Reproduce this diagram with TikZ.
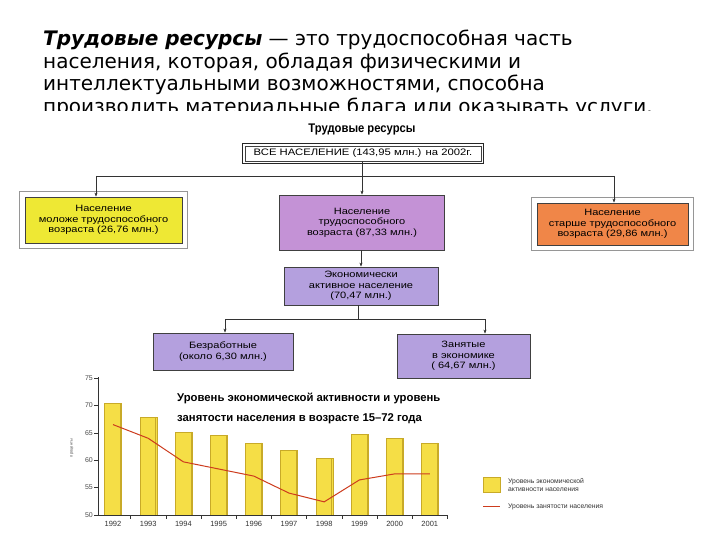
\documentclass[tikz,border=0pt]{standalone}
\usepackage{fontspec}
\setmainfont{DejaVu Sans}
\newfontfamily\boxf[FakeStretch=1.2]{Liberation Sans}
\newfontfamily\condb[FakeStretch=0.9]{Liberation Sans}
\newfontfamily\arialf{Liberation Sans}
\usetikzlibrary{arrows.meta,calc}
\definecolor{cyel}{RGB}{238,232,52}
\definecolor{cpur}{RGB}{196,146,214}
\definecolor{clav}{RGB}{180,160,222}
\definecolor{cora}{RGB}{240,134,72}
\definecolor{cbar}{RGB}{245,222,70}
\definecolor{cbaredge}{RGB}{200,170,40}
\definecolor{cred}{RGB}{205,60,30}
\definecolor{cframe}{RGB}{150,150,150}
\tikzset{
  boxn/.style={draw=black!75, line width=0.8pt, align=center, inner sep=0pt,
    font=\boxf\fontsize{9.2}{10.6}\selectfont},
  framed/.style={boxn, append after command={
    \pgfextra{\draw[cframe, line width=0.5pt]
      ($(\tikzlastnode.south west)+(-5,5)$) rectangle ($(\tikzlastnode.north east)+(5,-5)$);}}},
  dframed/.style={boxn, line width=0.5pt, append after command={
    \pgfextra{\draw[black!85, line width=1pt]
      ($(\tikzlastnode.south west)+(-2,2)$) rectangle ($(\tikzlastnode.north east)+(2,-2)$);}}},
  arr/.style={draw=black!80, line width=0.5pt, -{Stealth[length=4pt,width=3pt]}},
  conn/.style={draw=black!80, line width=0.5pt},
  toptext/.style={anchor=base west, inner sep=0pt, font=\fontsize{20}{22.5}\selectfont},
  yl/.style={anchor=east, inner sep=0pt, font=\arialf\fontsize{7}{7}\selectfont, text=black!70},
  xl/.style={anchor=base, inner sep=0pt, font=\arialf\fontsize{7.5}{7.5}\selectfont, text=black!80},
  legt/.style={anchor=base west, inner sep=0pt, font=\arialf\fontsize{6.8}{7}\selectfont, text=black!80},
  ctit/.style={anchor=base west, inner sep=0pt, font=\arialf\bfseries\fontsize{11.3}{12}\selectfont}
}
\begin{document}
\begin{tikzpicture}[x=1pt,y=-1pt]
\useasboundingbox (0,0) rectangle (720,540);
\fill[white] (0,0) rectangle (720,540);
% heading text
\node[toptext] (t1) at (43,46) {\textbf{\textit{Трудовые ресурсы}} — это трудоспособная часть};
\node[toptext] (t2) at (43,68.5) {населения, которая, обладая физическими и};
\node[toptext] (t3) at (43,91) {интеллектуальными возможностями, способна};
\node[toptext] (t4) at (43,113.5) {производить материальные блага или оказывать услуги.};
\fill[white] (0,111) rectangle (720,540);
% scheme
\node[anchor=base, inner sep=0pt, font=\condb\bfseries\fontsize{12.5}{12.5}\selectfont] (title) at (362,133) {Трудовые ресурсы};
\node[dframed, fill=white, minimum width=236pt, minimum height=15pt, font=\boxf\fontsize{9.4}{10}\selectfont] (all) at (363,153.5) {ВСЕ НАСЕЛЕНИЕ (143,95 млн.) на 2002г.};
\node[framed, fill=cyel, minimum width=157pt, minimum height=46pt] (young) at (103.5,220) {Население\\моложе трудоспособного\\возраста (26,76 млн.)};
\node[boxn, fill=cpur, minimum width=165pt, minimum height=55pt] (work) at (362,222.5) {Население\\трудоспособного\\возраста (87,33 млн.)};
\node[framed, fill=cora, minimum width=151pt, minimum height=42pt] (old) at (612.5,224) {Население\\старше трудоспособного\\возраста (29,86 млн.)};
\node[boxn, fill=clav, minimum width=154pt, minimum height=38pt] (econ) at (361,286) {Экономически\\активное население\\(70,47 млн.)};
\node[boxn, fill=clav, minimum width=140pt, minimum height=37pt] (unemp) at (223,351.5) {Безработные\\(около 6,30 млн.)};
\node[boxn, fill=clav, minimum width=133pt, minimum height=44pt] (empl) at (463.5,356) {Занятые\\в экономике\\( 64,67 млн.)};
% connectors
\coordinate (b1) at (362,176);
\coordinate (bl) at (96,176);
\coordinate (br) at (614,176);
\draw[conn] (all.south -| b1) -- (b1);
\draw[conn] (bl) -- (br);
\draw[arr] (bl) -- (bl |- young.north);
\draw[arr] (br) -- (br |- old.north);
\draw[arr] (b1) -- (work.north);
\draw[arr] (work.south -| econ.north) -- (econ.north);
\coordinate (b2) at (358,319);
\coordinate (b2l) at (225,319);
\coordinate (b2r) at (485,319);
\draw[conn] (econ.south -| b2) -- (b2);
\draw[conn] (b2l) -- (b2r);
\draw[arr] (b2l) -- (b2l |- unemp.north);
\draw[arr] (b2r) -- (b2r |- empl.north);
% chart
\foreach \v [count=\i] in {70.4,67.9,65.2,64.5,63.2,61.8,60.4,64.7,64.0,63.2}{
  \pgfmathsetmacro\xc{113+35.2*(\i-1)}
  \fill[cbar] (\xc-8.5,{515-5.48*(\v-50)}) rectangle (\xc+8.5,515);
  \draw[cbaredge, line width=0.6pt] (\xc+7.5,{515-5.48*(\v-50)}) -- (\xc+7.5,515);
  \draw[cbaredge, line width=0.3pt] (\xc-8.5,515) rectangle (\xc+8.5,{515-5.48*(\v-50)});
}
\draw[cred, line width=1pt, line join=round]
  (113,{515-5.48*16.5}) -- (148.2,{515-5.48*14.0}) -- (183.4,{515-5.48*9.7}) -- (218.6,{515-5.48*8.4})
  -- (253.8,{515-5.48*7.1}) -- (289,{515-5.48*4.0}) -- (324.2,{515-5.48*2.4}) -- (359.4,{515-5.48*6.4})
  -- (394.6,{515-5.48*7.5}) -- (429.8,{515-5.48*7.5});
\draw[black!80, line width=0.6pt] (98,377) -- (98,515) -- (447,515);
\foreach \v in {50,55,...,75}{
  \draw[black!80, line width=0.5pt] (94,{515-5.48*(\v-50)}) -- (98,{515-5.48*(\v-50)});
  \node[yl] at (93,{515-5.48*(\v-50)}) {\v};
}
\foreach \k in {0,...,9}{
  \draw[black!80, line width=0.5pt] ({130.6+35.2*\k},515) -- ({130.6+35.2*\k},519);
}
\foreach \yr [count=\i] in {1992,1993,1994,1995,1996,1997,1998,1999,2000,2001}{
  \node[xl] at ({113+35.2*(\i-1)},526) {\yr};
}
\node[rotate=90, inner sep=0pt, font=\arialf\fontsize{4}{4}\selectfont, text=black!70] (ylab) at (72,448) {проценты};
\node[ctit] (ct1) at (177,401) {Уровень экономической активности и уровень};
\node[ctit] (ct2) at (177,421) {занятости населения в возрасте 15–72 года};
% legend
\fill[cbar] (483,477) rectangle (500,492);
\draw[cbaredge, line width=0.3pt] (483,477) rectangle (500,492);
\node[legt] (leg1a) at (508,483) {Уровень экономической};
\node[legt] (leg1b) at (508,491) {активности населения};
\draw[cred, line width=1pt] (483,506) -- (500,506);
\node[legt] (leg2) at (508,508.5) {Уровень занятости населения};
\end{tikzpicture}
\end{document}
